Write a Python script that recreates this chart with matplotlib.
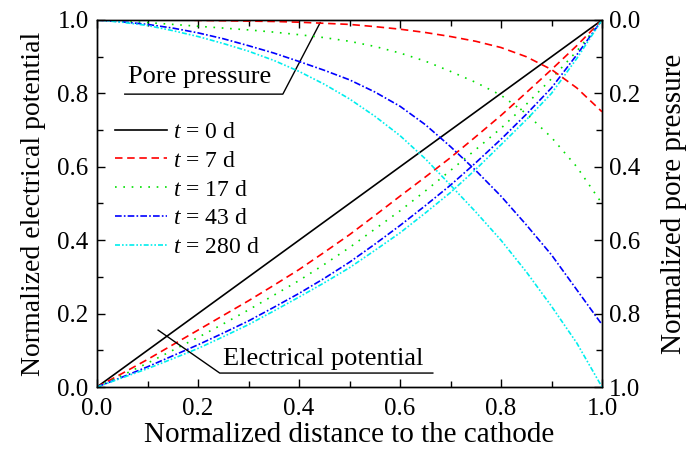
import matplotlib
matplotlib.use("Agg")
import matplotlib.pyplot as plt
from matplotlib.ticker import MultipleLocator, FormatStrFormatter

plt.rcParams['font.family'] = ['Liberation Serif', 'DejaVu Serif']
plt.rcParams['mathtext.fontset'] = 'custom'
plt.rcParams['mathtext.it'] = 'Liberation Serif:italic'
plt.rcParams['mathtext.rm'] = 'Liberation Serif'

# Normalized distance to the cathode
x = [0.0, 0.05, 0.1, 0.15, 0.2, 0.25, 0.3, 0.35, 0.4, 0.45, 0.5, 0.55,
     0.6, 0.65, 0.7, 0.75, 0.8, 0.85, 0.9, 0.95, 1.0]

times = ["0", "7", "17", "43", "280"]

# Normalized electrical potential (left axis)
ep_0 = [0.0, 0.05, 0.1, 0.15, 0.2, 0.25, 0.3, 0.35, 0.4, 0.45, 0.5, 0.55,
        0.6, 0.65, 0.7, 0.75, 0.8, 0.85, 0.9, 0.95, 1.0]
ep_7 = [0.0, 0.037, 0.075, 0.115, 0.155, 0.195, 0.235, 0.277, 0.32, 0.367, 0.415, 0.467,
        0.52, 0.572, 0.625, 0.682, 0.74, 0.802, 0.865, 0.93, 1.0]
ep_17 = [0.0, 0.032, 0.065, 0.1, 0.135, 0.172, 0.21, 0.25, 0.29, 0.334, 0.38, 0.43,
         0.48, 0.534, 0.59, 0.647, 0.705, 0.77, 0.84, 0.915, 1.0]
ep_43 = [0.0, 0.027, 0.055, 0.085, 0.115, 0.147, 0.18, 0.217, 0.255, 0.296, 0.34, 0.389,
         0.44, 0.494, 0.55, 0.611, 0.675, 0.743, 0.815, 0.905, 1.0]
ep_280 = [0.0, 0.025, 0.05, 0.077, 0.105, 0.137, 0.17, 0.207, 0.245, 0.284, 0.325, 0.372,
          0.42, 0.474, 0.53, 0.593, 0.66, 0.728, 0.80, 0.895, 1.0]

# Normalized pore pressure (right axis, inverted)
pp_7 = [0.0, 0.0, 0.0, 0.0, 0.001, 0.002, 0.003, 0.004, 0.006, 0.009, 0.012, 0.018,
        0.025, 0.034, 0.045, 0.058, 0.075, 0.1, 0.135, 0.185, 0.25]
pp_17 = [0.0, 0.003, 0.007, 0.012, 0.017, 0.022, 0.027, 0.033, 0.04, 0.048, 0.058, 0.072,
         0.09, 0.112, 0.14, 0.17, 0.205, 0.255, 0.32, 0.40, 0.50]
pp_43 = [0.0, 0.005, 0.012, 0.022, 0.035, 0.051, 0.07, 0.09, 0.113, 0.137, 0.163, 0.196,
         0.235, 0.285, 0.345, 0.41, 0.48, 0.558, 0.64, 0.735, 0.83]
pp_280 = [0.0, 0.006, 0.015, 0.029, 0.045, 0.064, 0.085, 0.11, 0.14, 0.175, 0.215, 0.262,
          0.315, 0.378, 0.45, 0.523, 0.60, 0.686, 0.78, 0.88, 1.0]

colors = ["black", "#ff0000", "#00e000", "#0000ff", "#00eeee"]
styles = ["-", (0, (4.5, 2.8)), (0, (1, 4)), (0, (4, 1.3, 1, 1.3)),
          (0, (3, 1.2, 1, 1.2, 1, 1.2))]

fig = plt.figure(figsize=(6.89, 4.68), dpi=100)
ax = fig.add_axes([97/689, 1-387/468, (602-97)/689, (387-20)/468])
ax2 = ax.twinx()

ep = [ep_0, ep_7, ep_17, ep_43, ep_280]
pp = [None, pp_7, pp_17, pp_43, pp_280]
lw = 1.2
for i in range(5):
    ax.plot(x, ep[i], color=colors[i], linestyle=styles[i], linewidth=lw,
            label=r"$t$ = " + times[i] + " d")
    if pp[i] is not None:
        ax2.plot(x, pp[i], color=colors[i], linestyle=styles[i], linewidth=lw)

ax.set_xlim(0, 1)
ax.set_ylim(0, 1)
ax2.set_ylim(1, 0)

for a in (ax, ax2):
    a.xaxis.set_major_locator(MultipleLocator(0.2))
    a.xaxis.set_minor_locator(MultipleLocator(0.1))
    a.yaxis.set_major_locator(MultipleLocator(0.2))
    a.yaxis.set_minor_locator(MultipleLocator(0.1))
    for s in a.spines.values():
        s.set_linewidth(1.0)

ax.tick_params(which='both', direction='in', top=True, right=False, labelsize=18, width=1.0)
ax.tick_params(axis='y', which='major', pad=6)
ax.tick_params(axis='x', which='major', pad=8)
ax.tick_params(which='major', length=6)
ax.tick_params(which='minor', length=4)
ax2.tick_params(which='both', direction='in', labelsize=18, width=1.0)
ax2.tick_params(which='major', length=6, pad=5)
ax2.tick_params(which='minor', length=4)

ax.yaxis.set_major_formatter(FormatStrFormatter('%.1f'))
ax.xaxis.set_major_formatter(FormatStrFormatter('%.1f'))
ax2.yaxis.set_major_formatter(FormatStrFormatter('%.1f'))

ax.set_xlabel("Normalized distance to the cathode", fontsize=21, labelpad=1.5)
ax.set_ylabel("Normalized electrical potential", fontsize=20, labelpad=8)
ax2.set_ylabel("Normalized pore pressure", fontsize=21, labelpad=15)

leg = ax.legend(loc='upper left', bbox_to_anchor=(0.036, 0.724), frameon=False,
                fontsize=17, handlelength=2.2, handletextpad=0.25, labelspacing=0.31,
                borderaxespad=0, borderpad=0)

# Annotations (axes-fraction coordinates)
ax.text(0.061, 0.828, "Pore pressure", transform=ax.transAxes, fontsize=19,
        ha='left', va='baseline')
ax.plot([0.055, 0.368, 0.442], [0.798, 0.798, 0.993], transform=ax.transAxes,
        color='black', linewidth=1.0, clip_on=False)
ax.text(0.25, 0.06, "Electrical potential", transform=ax.transAxes, fontsize=19,
        ha='left', va='baseline')
ax.plot([0.121, 0.243, 0.665], [0.155, 0.038, 0.038], transform=ax.transAxes,
        color='black', linewidth=1.0, clip_on=False)

fig.savefig("out.png", dpi=100)
